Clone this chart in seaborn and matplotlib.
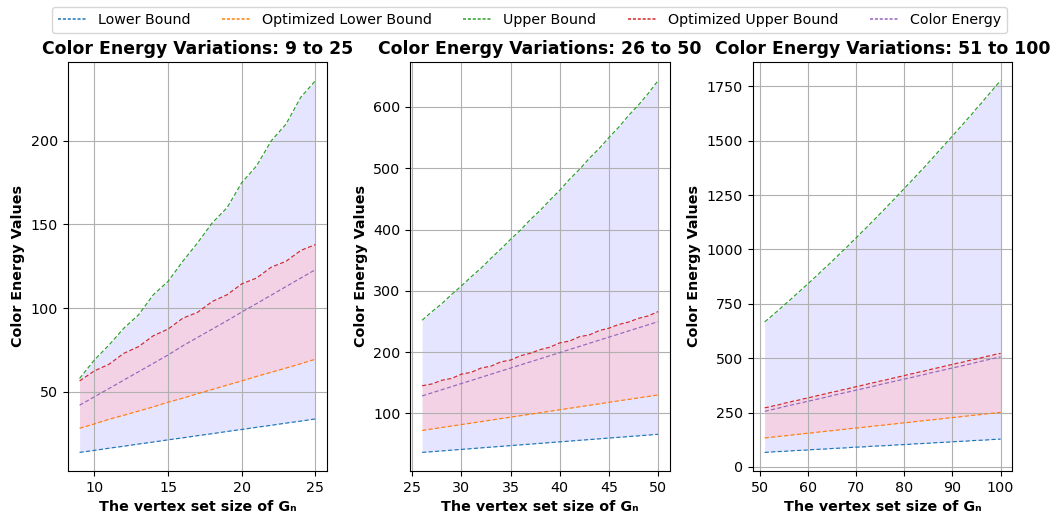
import matplotlib
matplotlib.use("Agg")
import matplotlib.pyplot as plt
import seaborn as sns
import numpy as np

# ---- data ----
n1 = list(range(9, 26))
lower1 = [13.8, 15.0, 16.3, 17.5, 18.8, 20.0, 21.3, 22.5, 23.8, 25.0, 26.3, 27.5, 28.8, 30.0, 31.3, 32.5, 33.8]
opt_lower1 = [28.2, 30.8, 33.6, 36.0, 38.5, 41.0, 43.8, 46.2, 48.9, 51.4, 54.0, 56.5, 59.2, 61.7, 64.2, 66.8, 69.5]
upper1 = [58, 69, 78, 88, 96, 108, 116, 128, 139, 151, 160, 175, 185, 200, 210, 226, 236]
opt_upper1 = [56.5, 62.5, 66.5, 73, 77, 83.5, 87.5, 94, 97.5, 104, 108, 114.5, 118, 124.5, 128, 134.5, 138]
energy1 = [42, 47, 52, 57, 62, 67, 72, 77.5, 82.5, 87.5, 92.5, 97.7, 102.7, 107.8, 112.9, 118, 123]

n2 = list(range(26, 51))
lower2 = [36.3, 37.5, 38.7, 40.0, 41.2, 42.4, 43.7, 44.9, 46.1, 47.4, 48.6, 49.8, 51.0, 52.3, 53.5,
          54.7, 56.0, 57.2, 58.4, 59.7, 60.9, 62.1, 63.3, 64.6, 65.8]
opt_lower2 = [72, 74.5, 77, 79.3, 81.7, 84.2, 86.5, 89, 91.4, 93.8, 96.2, 98.6, 101, 103.5, 105.9,
              108.3, 110.7, 113.1, 115.5, 118, 120.4, 122.8, 125.2, 127.6, 130]
upper2 = [252, 266, 279, 294, 308, 323, 337, 353, 368, 384, 399, 416, 431, 448, 464,
          482, 498, 516, 532, 550, 567, 586, 603, 622, 643]
opt_upper2 = [145, 148, 154, 157, 164, 167, 174, 177, 184, 187, 194, 198, 204, 208, 215,
              218, 225, 228, 235, 239, 245, 249, 255, 259, 266]
energy2 = [128.5, 133.5, 138.6, 143.6, 148.7, 153.7, 158.8, 163.8, 168.9, 173.9, 179, 184, 189, 194.1, 199.1,
           204.2, 209.2, 214.3, 219.3, 224.4, 229.4, 234.5, 239.5, 244.6, 249.6]

n3 = list(range(51, 101))
lower3 = [67, 68, 70, 71, 72, 73, 75, 76, 77, 78, 80, 81, 82, 83, 85, 86, 87, 88, 90, 91,
          92, 93, 95, 96, 97, 98, 99, 101, 102, 103, 104, 106, 107, 108, 109, 111, 112, 113, 114, 116,
          117, 118, 119, 121, 122, 123, 124, 126, 127, 128]
opt_lower3 = [133, 136, 138, 141, 143, 145, 148, 150, 153, 155, 157, 160, 162, 165, 167, 169, 172, 174, 177, 179,
              181, 184, 186, 189, 191, 193, 196, 198, 201, 203, 205, 208, 210, 213, 215, 217, 220, 222, 225, 227,
              229, 232, 234, 237, 239, 241, 244, 246, 249, 251]
upper3 = [667, 685, 705, 723, 744, 762, 783, 802, 823, 842, 863, 883, 905, 924, 946, 967, 989, 1009, 1032, 1053,
          1076, 1097, 1120, 1142, 1165, 1187, 1211, 1233, 1257, 1280, 1304, 1327, 1351, 1374, 1399, 1423, 1448, 1472, 1497, 1521,
          1547, 1571, 1597, 1621, 1648, 1672, 1699, 1724, 1751, 1776]
opt_upper3 = [272, 276, 282, 286, 293, 297, 303, 307, 313, 317, 323, 328, 333, 338, 344, 348, 354, 358, 364, 369,
              374, 379, 385, 389, 395, 399, 405, 410, 415, 420, 426, 430, 436, 440, 446, 451, 456, 461, 467, 471,
              477, 481, 487, 492, 497, 502, 508, 512, 518, 522]
energy3 = [256, 261, 266, 271, 277, 282, 287, 292, 297, 302, 307, 312, 317, 322, 328, 333, 338, 343, 348, 353,
           358, 363, 368, 373, 379, 384, 389, 394, 399, 404, 409, 414, 419, 424, 430, 435, 440, 445, 450, 455,
           460, 465, 470, 475, 481, 486, 491, 496, 501, 506]

titles = ["Color Energy Variations: 9 to 25", "Color Energy Variations: 26 to 50",
          "Color Energy Variations: 51 to 100"]
series_names = ["Lower Bound", "Optimized Lower Bound", "Upper Bound", "Optimized Upper Bound", "Color Energy"]
xlabel = "The vertex set size of G\u2099"
ylabel = "Color Energy Values"

panels = [
    (n1, lower1, opt_lower1, upper1, opt_upper1, energy1),
    (n2, lower2, opt_lower2, upper2, opt_upper2, energy2),
    (n3, lower3, opt_lower3, upper3, opt_upper3, energy3),
]

colors = ["#1f77b4", "#ff7f0e", "#2ca02c", "#d62728", "#9467bd"]

fig, axes = plt.subplots(1, 3, figsize=(10.59, 5.21), dpi=100)
fig.subplots_adjust(left=0.064, right=0.956, top=0.881, bottom=0.096, wspace=0.32)

for ax, (n, lo, olo, up, oup, en), title in zip(axes, panels, titles):
    ax.fill_between(n, lo, up, color="blue", alpha=0.1, linewidth=0)
    ax.fill_between(n, olo, oup, color="pink", alpha=0.5, linewidth=0)
    for vals, name, c in zip([lo, olo, up, oup, en], series_names, colors):
        sns.lineplot(x=n, y=vals, ax=ax, color=c, linestyle=(0, (3.5, 2)), linewidth=0.85, label=name)
    ax.set_title(title, fontsize=12.4, fontweight="bold")
    ax.set_xlabel(xlabel, fontsize=10.3, fontweight="bold")
    ax.set_ylabel(ylabel, fontsize=10.3, fontweight="bold")
    ax.tick_params(labelsize=10.3)
    ax.grid(True)
    ax.get_legend().remove()

handles, labels = axes[0].get_legend_handles_labels()
leg = fig.legend(handles, labels, loc="upper center", ncol=5, bbox_to_anchor=(0.5, 1.0),
                 fontsize=10.3, columnspacing=2.2)
for line in leg.get_lines():
    line.set_linewidth(1.1)
    line.set_linestyle((0, (2, 1.2)))

fig.savefig("out.png", dpi=100)
